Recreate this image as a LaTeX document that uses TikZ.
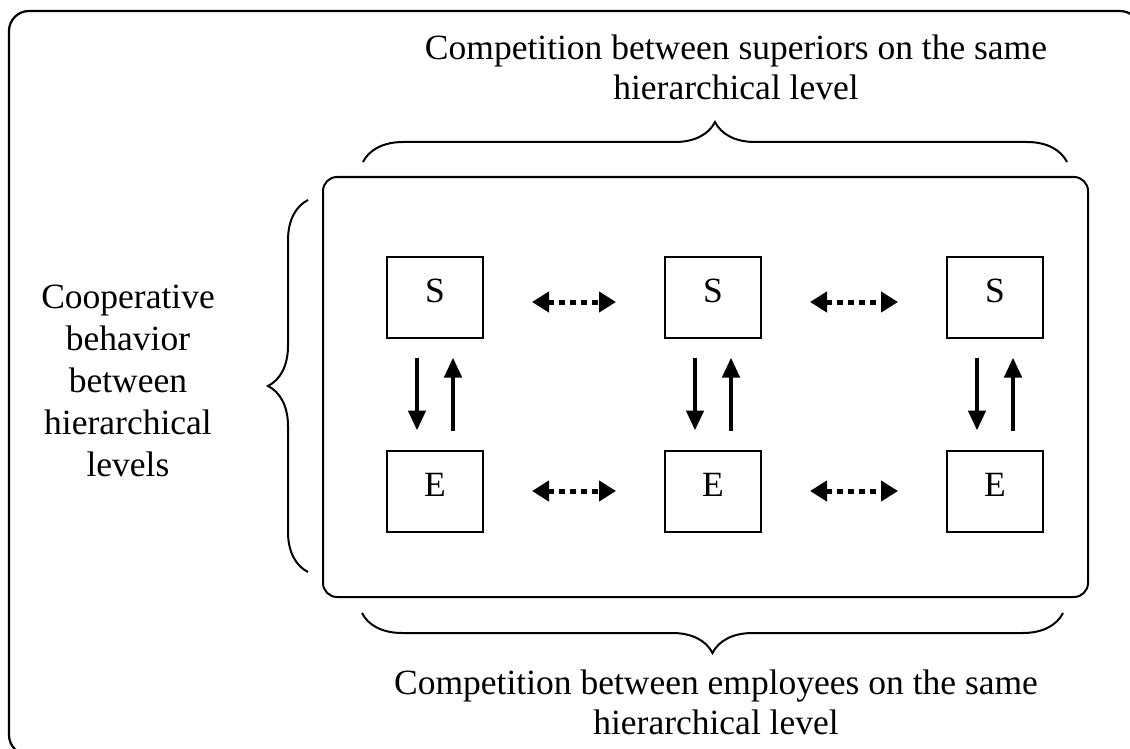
\documentclass[tikz,border=0pt]{standalone}
\usepackage{fontspec}
\setmainfont{Liberation Serif}
\usetikzlibrary{arrows.meta,decorations.pathreplacing}
\newcommand{\bigtxt}{\fontsize{35.5}{40}\selectfont}

\begin{document}
\begin{tikzpicture}[x=1pt,y=-1pt,
    agent/.style={draw,line width=2pt,minimum width=96pt,minimum height=81pt,inner sep=0pt,text depth=12pt,font=\bigtxt},
    link/.style={line width=4.5pt,-{Triangle[length=20pt,width=17pt]},shorten <=19pt,shorten >=19pt},
    rival/.style={line width=5pt,dash pattern=on 6pt off 5pt,{Triangle[length=17pt,width=20pt]}-{Triangle[length=17pt,width=20pt]},shorten <=48pt,shorten >=48pt},
    curly/.style={line width=2pt,decorate,decoration={brace,amplitude=40pt}},
    caption/.style={align=center,font=\bigtxt}]
  \clip (0,0) rectangle (1130,749);
  \draw[line width=2.2pt,rounded corners=20pt] (9,11) rectangle (1140,755);
  \draw[line width=2pt,rounded corners=14pt] (323,177) rectangle (1088,597);
  \node[agent] (s1) at (435,297) {S};
  \node[agent] (s2) at (713,297) {S};
  \node[agent] (s3) at (995,297) {S};
  \node[agent] (e1) at (435,491) {E};
  \node[agent] (e2) at (713,491) {E};
  \node[agent] (e3) at (995,491) {E};
  \foreach \c in {1,2,3} {
    \draw[link] ([xshift=-18pt]s\c.south) -- ([xshift=-18pt]e\c.north);
    \draw[link] ([xshift=18pt]e\c.north) -- ([xshift=18pt]s\c.south);
  }
  \draw[rival] ([yshift=-5pt]s1.east) -- ([yshift=-5pt]s2.west);
  \draw[rival] ([yshift=-5pt]s2.east) -- ([yshift=-5pt]s3.west);
  \draw[rival] (e1.east) -- (e2.west);
  \draw[rival] (e2.east) -- (e3.west);
  \draw[curly] (363,162) -- (1067,162);
  \draw[curly] (308,572) -- (308,200);
  \draw[curly] (1063,613) -- (362,613);
  \node[caption] (toplbl) at (736,67) {Competition between superiors on the same\\hierarchical level};
  \node[caption,font=\fontsize{35.5}{42}\selectfont] (leftlbl) at (128,381) {Cooperative\\behavior\\between\\hierarchical\\levels};
  \node[caption] (botlbl) at (716,702) {Competition between employees on the same\\hierarchical level};
\end{tikzpicture}
\end{document}
